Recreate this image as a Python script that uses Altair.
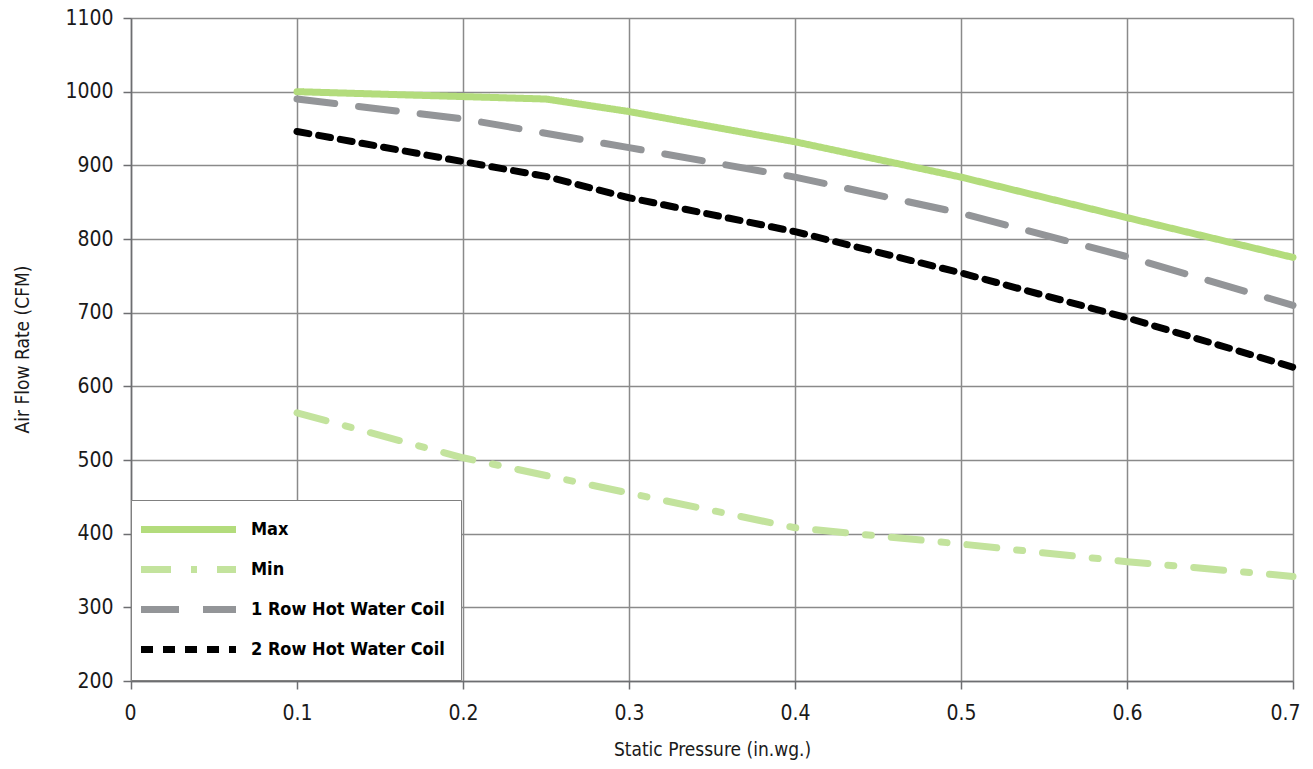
import altair as alt
import pandas as pd

series_names = ["Max", "Min", "1 Row Hot Water Coil", "2 Row Hot Water Coil"]
series_colors = ["#b3dc7c", "#c3e39d", "#939598", "#000000"]
series_dashes = [[1, 0], [30, 20, 6, 20], [38, 24], [12, 10]]

max_x = [0.1, 0.25, 0.3, 0.4, 0.5, 0.6, 0.7]
max_y = [1000, 990, 973, 932, 884, 829, 775]

min_x = [0.1, 0.2, 0.3, 0.4, 0.5, 0.6, 0.7]
min_y = [564, 503, 455, 408, 386, 362, 342]

row1_x = [0.1, 0.2, 0.3, 0.4, 0.5, 0.6, 0.7]
row1_y = [990, 963, 924, 884, 835, 776, 710]

row2_x = [0.1, 0.2, 0.25, 0.3, 0.4, 0.5, 0.6, 0.7]
row2_y = [946, 905, 885, 856, 810, 754, 693, 626]

x_ticks = [0, 0.1, 0.2, 0.3, 0.4, 0.5, 0.6, 0.7]
y_ticks = [200, 300, 400, 500, 600, 700, 800, 900, 1000, 1100]

rows = []
for name, xs, ys in zip(series_names, [max_x, min_x, row1_x, row2_x], [max_y, min_y, row1_y, row2_y]):
    for i, (xv, yv) in enumerate(zip(xs, ys)):
        rows.append({"series": name, "pressure": xv, "flow": yv, "order": i})
df = pd.DataFrame(rows)

FONT = "DejaVu Sans Condensed, Liberation Sans Narrow, sans-serif"

chart = alt.Chart(df).mark_line(strokeWidth=7, strokeCap="round", strokeJoin="round").encode(
    x=alt.X("pressure:Q",
            scale=alt.Scale(domain=[0, 0.7], nice=False, zero=False),
            axis=alt.Axis(values=x_ticks, format="g", title="Static Pressure (in.wg.)",
                          labelFlush=True, labelFlushOffset=7,
                          titleX=581, titleY=68, titleBaseline="middle", titleAlign="center")),
    y=alt.Y("flow:Q",
            scale=alt.Scale(domain=[200, 1100], nice=False, zero=False),
            axis=alt.Axis(values=y_ticks, format="d", title="Air Flow Rate (CFM)",
                          labelFlush=False,
                          titleX=-109, titleY=331, titleAngle=270,
                          titleBaseline="middle", titleAlign="center")),
    color=alt.Color("series:N",
                    scale=alt.Scale(domain=series_names, range=series_colors),
                    legend=alt.Legend(title=None, orient="none", legendX=0, legendY=482,
                                      symbolType="M-1.95,0H7.55", symbolSize=400, symbolStrokeWidth=7,
                                      labelFont=FONT, labelFontSize=18, labelFontWeight="bold",
                                      labelColor="#000000", labelOffset=77, labelLimit=400,
                                      fillColor="#ffffff", strokeColor="#808080",
                                      padding=16, rowPadding=11)),
    strokeDash=alt.StrokeDash("series:N",
                              scale=alt.Scale(domain=series_names, range=series_dashes),
                              legend=alt.Legend(title=None)),
    detail="series:N",
    order="order:Q",
).properties(
    width=1162, height=663,
    autosize=alt.AutoSizeParams(type="none"),
    padding={"left": 123, "top": 10, "right": 10, "bottom": 80},
).configure_view(
    stroke=None
).configure_axis(
    grid=True, gridColor="#8a8a8a", gridWidth=1.5,
    domainColor="#6d6e71", domainWidth=1.5,
    tickColor="#6d6e71", tickWidth=1.5, tickSize=8,
    labelFont=FONT, labelFontSize=21, labelColor="#1a1a1a",
    titleFont=FONT, titleFontSize=19, titleFontWeight="normal", titleColor="#1a1a1a",
).configure_axisX(
    labelPadding=13
).configure_axisY(
    labelPadding=10
)

chart.save("out.html", embed_options={"renderer": "svg", "actions": False})
